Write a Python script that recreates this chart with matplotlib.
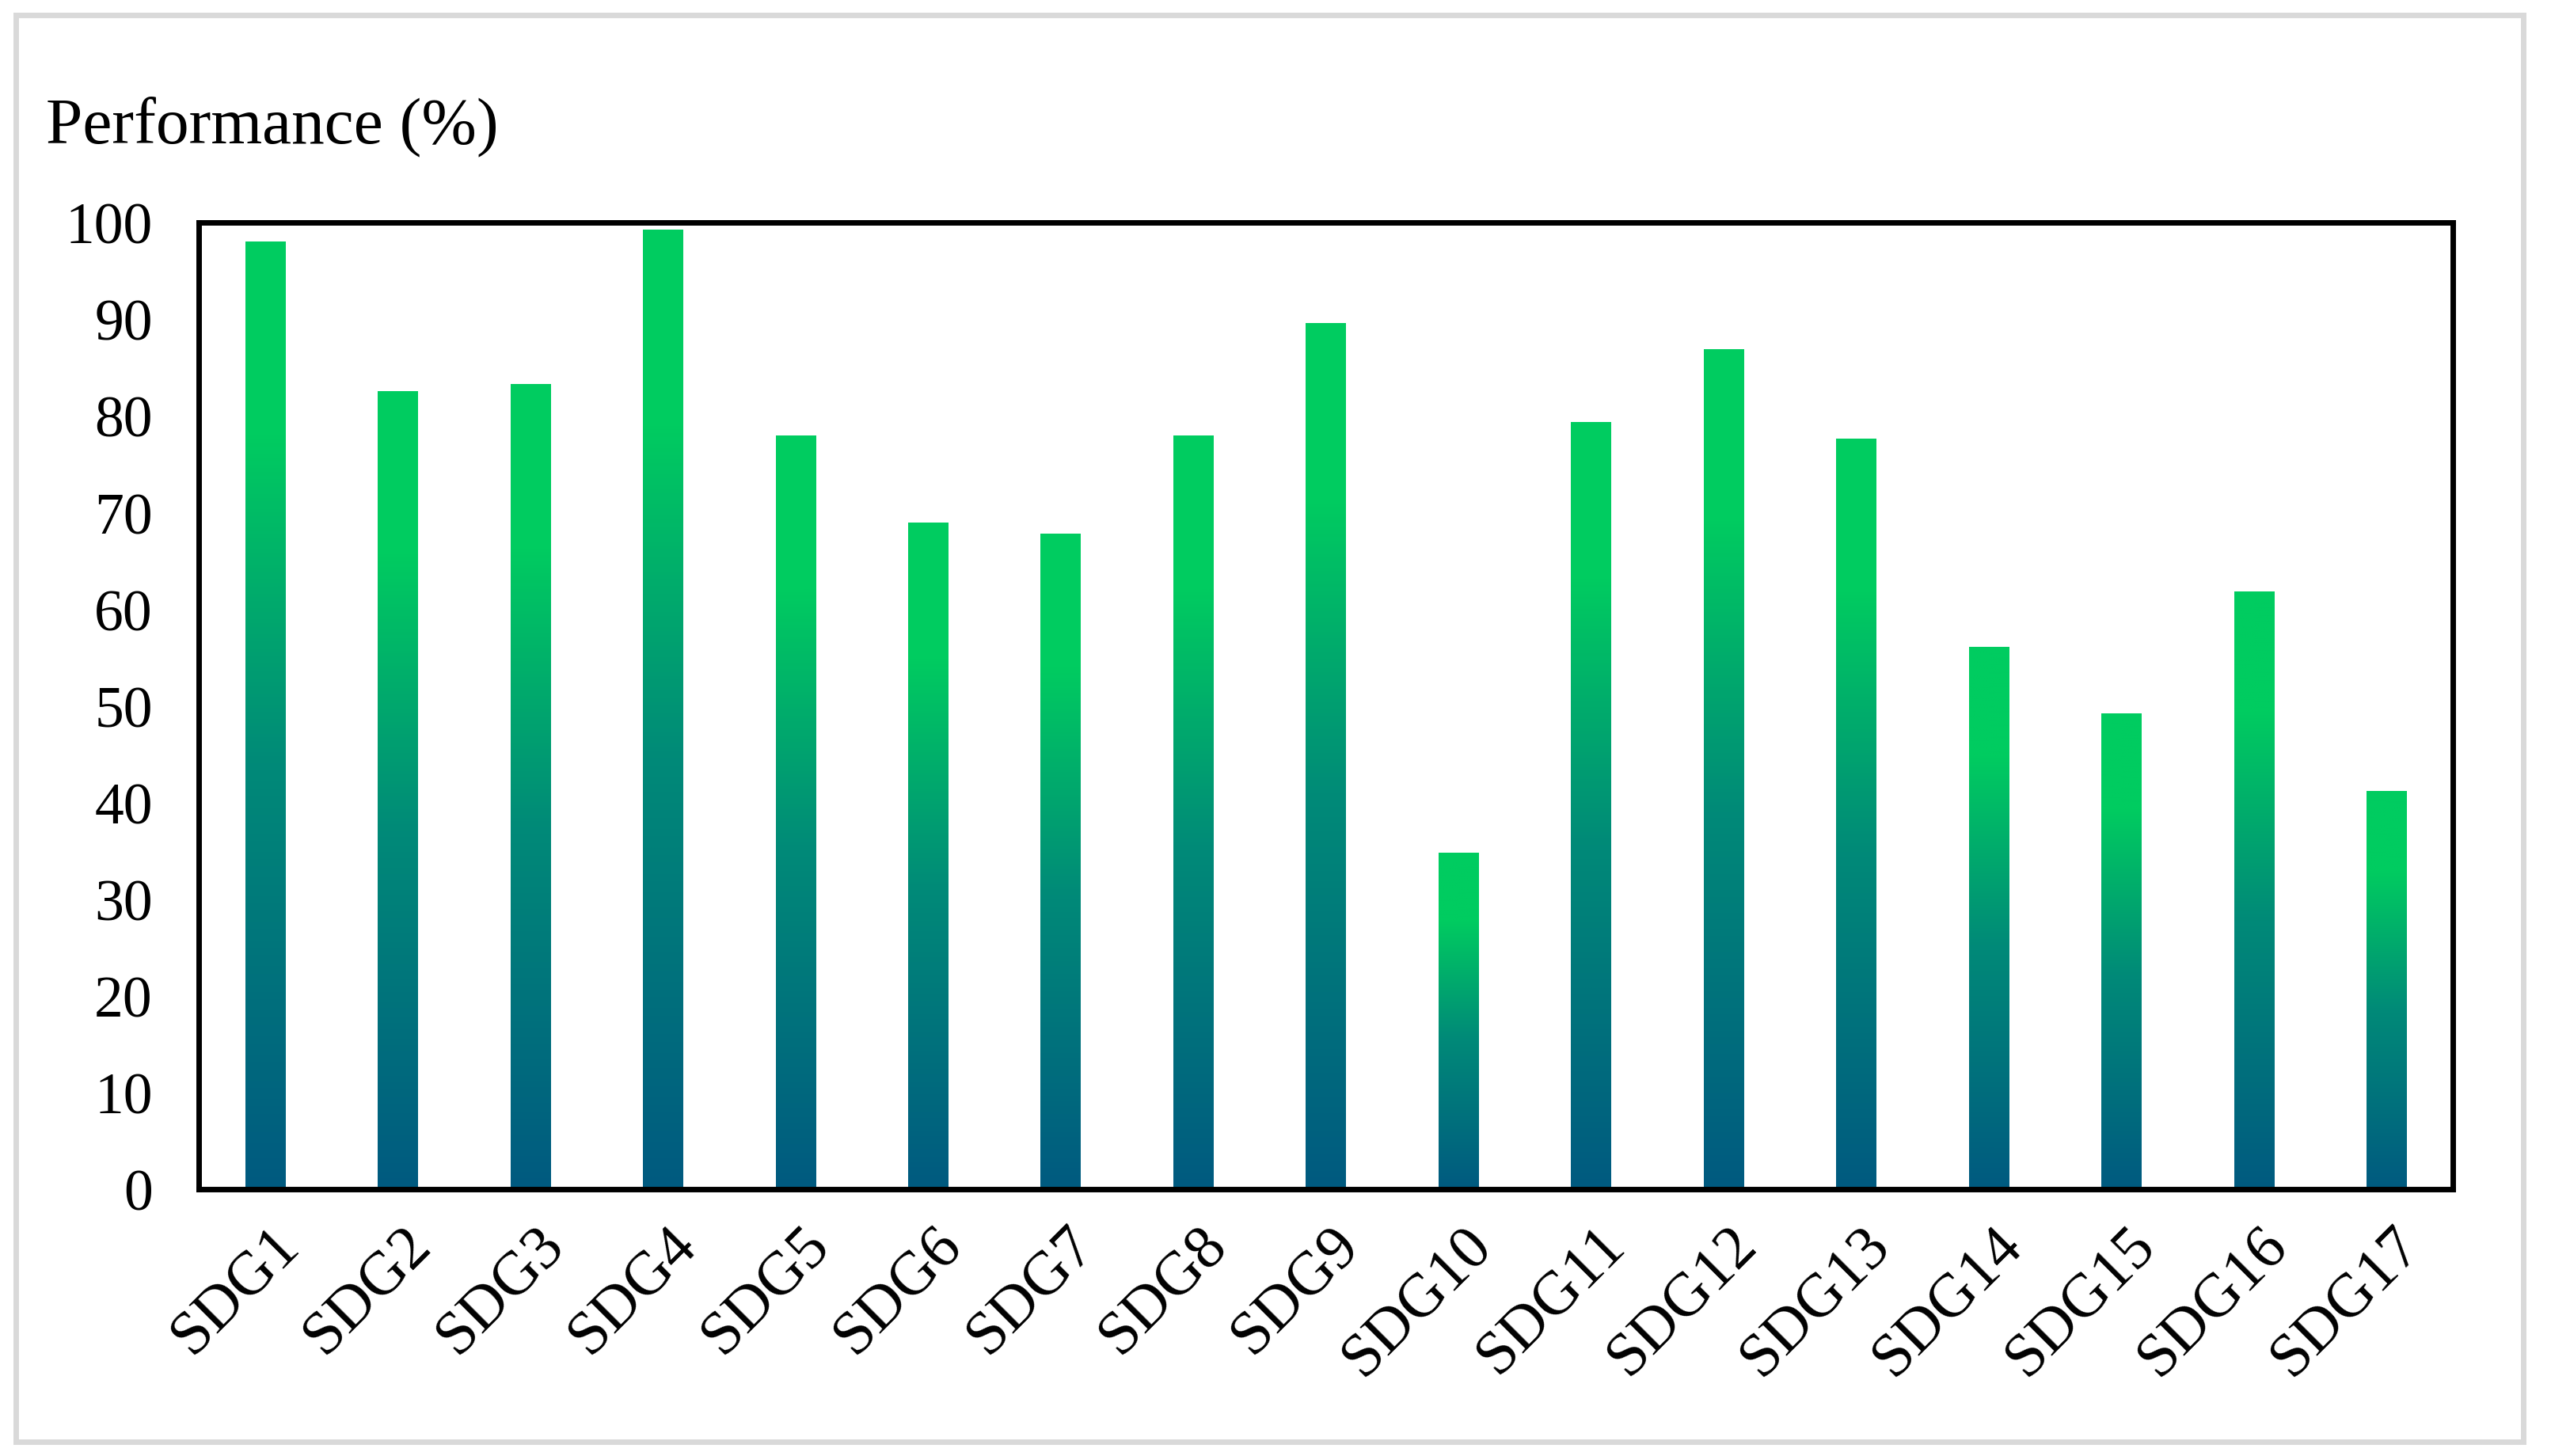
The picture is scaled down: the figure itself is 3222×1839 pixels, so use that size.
import matplotlib
matplotlib.use('Agg')
import matplotlib.pyplot as plt
import numpy as np
from matplotlib.colors import LinearSegmentedColormap
from matplotlib.patches import Rectangle
from matplotlib.transforms import ScaledTranslation

plt.rcParams['font.family'] = ['Liberation Serif', 'DejaVu Serif']

# SDG performance scores
goals = [f'SDG{i}' for i in range(1, 18)]
performance = [98.0, 82.5, 83.3, 99.2, 77.9, 68.9, 67.8, 77.9, 89.6,
               34.8, 79.3, 86.9, 77.6, 56.1, 49.2, 61.8, 41.2]
y_ticks = list(range(0, 101, 10))

# dark blue at the foot of each bar, green near its top
grad = LinearSegmentedColormap.from_list(
    'sdg', [(0.0, '#005a80'), (0.45, '#008a78'), (0.8, '#00cc60'), (1.0, '#00cc60')])

fig = plt.figure(figsize=(32.23, 18.40), dpi=100)
ax = fig.add_axes([0.0779, 0.1832, 0.8833, 0.6635])

x = np.arange(len(goals))
bars = ax.bar(x, performance, width=0.3, color='none', edgecolor='none')
col = np.linspace(0, 1, 256).reshape(-1, 1)
for b in bars:
    x0, w, h = b.get_x(), b.get_width(), b.get_height()
    ax.imshow(col, cmap=grad, origin='lower', aspect='auto',
              extent=[x0, x0 + w, 0, h], interpolation='bilinear', zorder=2)

ax.set_xlim(-0.5, len(goals) - 0.5)
ax.set_ylim(0, 100)
ax.set_yticks(y_ticks)
ax.set_xticks(x)
ax.set_xticklabels(goals, rotation=45, ha='right', va='top', rotation_mode='anchor')
ax.tick_params(axis='y', length=0, pad=42, labelsize=53)
ax.tick_params(axis='x', length=0, pad=24, labelsize=56)
shift = ScaledTranslation(0.06, 0, fig.dpi_scale_trans)
for lab in ax.get_xticklabels():
    lab.set_transform(lab.get_transform() + shift)
for s in ax.spines.values():
    s.set_linewidth(5)
    s.set_color('black')

fig.text(0.018, 0.913, 'Performance (%)', fontsize=60, ha='left', va='center')

# light grey frame round the whole chart
fig.patches.append(Rectangle((0.0062, 0.0098), 0.9826, 0.9793, transform=fig.transFigure,
                             fill=False, edgecolor='#d9d9d9', linewidth=5))

fig.savefig('out.png', dpi=100)
